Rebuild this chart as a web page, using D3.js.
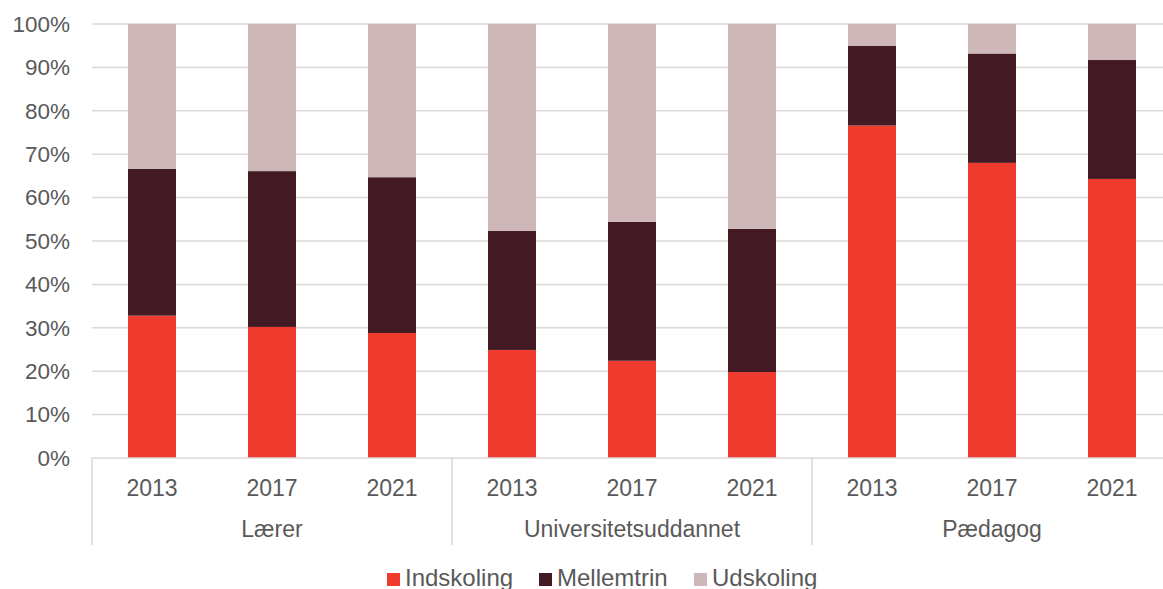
<!DOCTYPE html>
<html>
<head>
<meta charset="utf-8">
<style>
body { margin: 0; background: #fff; }
text { font-family: "Liberation Sans", Arial, sans-serif; fill: #595959; }
</style>
<script src="https://cdn.jsdelivr.net/npm/d3@7"></script>
</head>
<body>
<svg width="1163" height="589"></svg>
<script>
var groups = ["Lærer", "Universitetsuddannet", "Pædagog"];
var years = ["2013", "2017", "2021"];
var series = ["Indskoling", "Mellemtrin", "Udskoling"];
var colors = ["#ee3b2e", "#431a24", "#cdb7b9"];

// shares in %, one entry per bar (group x year)
var indskoling = [32.8, 30.2, 28.8, 24.9, 22.4, 19.8, 76.6, 68.0, 64.3];
var mellemtrin = [33.8, 35.9, 35.9, 27.4, 32.0, 33.0, 18.4, 25.2, 27.4];
var udskoling  = [33.4, 33.9, 35.3, 47.7, 45.6, 47.2, 5.0, 6.8, 8.3];
var yTicks = [0, 10, 20, 30, 40, 50, 60, 70, 80, 90, 100];

var svg = d3.select("svg"),
    margin = {top: 24, right: -9, bottom: 131, left: 92},
    width = +svg.attr("width") - margin.left - margin.right,
    height = +svg.attr("height") - margin.top - margin.bottom,
    g = svg.append("g").attr("transform", "translate(" + margin.left + "," + margin.top + ")");

var rows = [];
groups.forEach(function(gr, i) {
  years.forEach(function(yr, j) {
    var k = i * years.length + j;
    rows.push({key: gr + "|" + yr, group: gr, year: yr,
      Indskoling: indskoling[k], Mellemtrin: mellemtrin[k], Udskoling: udskoling[k]});
  });
});

var x = d3.scaleBand().domain(rows.map(function(d) { return d.key; })).range([0, width]).paddingInner(0.6).paddingOuter(0.3);
var y = d3.scaleLinear().domain([0, 100]).range([height, 0]);
var z = d3.scaleOrdinal().domain(series).range(colors);

// gridlines
g.append("g")
  .selectAll("line")
  .data(yTicks.slice(1))
  .enter().append("line")
    .attr("x1", 0).attr("x2", width)
    .attr("y1", function(d) { return y(d); }).attr("y2", function(d) { return y(d); })
    .attr("stroke", "#d9d9d9").attr("stroke-width", 1.5);

// y axis labels
var yAxis = g.append("g")
  .call(d3.axisLeft(y).tickValues(yTicks).tickFormat(function(d) { return d + "%"; }).tickSize(0).tickPadding(22));
yAxis.select(".domain").remove();
yAxis.selectAll("text")
  .attr("fill", "#595959")
  .style("font-size", "22.5px")
  .style("font-family", "'Liberation Sans', Arial, sans-serif");

// stacked bars
var stack = d3.stack().keys(series);
var layers = stack(rows);
g.selectAll(".layer")
  .data(layers)
  .enter().append("g")
    .attr("class", "layer")
    .attr("fill", function(d) { return z(d.key); })
  .selectAll("rect")
  .data(function(d) { return d; })
  .enter().append("rect")
    .attr("x", function(d) { return x(d.data.key); })
    .attr("width", x.bandwidth())
    .attr("y", function(d) { return y(d[1]); })
    .attr("height", function(d) { return y(d[0]) - y(d[1]); });

// x axis baseline
g.append("line")
  .attr("x1", 0).attr("x2", width)
  .attr("y1", height).attr("y2", height)
  .attr("stroke", "#d9d9d9").attr("stroke-width", 1.5);

// year labels
g.append("g")
  .selectAll("text")
  .data(rows)
  .enter().append("text")
    .attr("x", function(d) { return x(d.key) + x.bandwidth() / 2; })
    .attr("y", height + 38)
    .attr("text-anchor", "middle")
    .style("font-size", "23px")
    .text(function(d) { return d.year; });

// group separators and labels
var step = x.step();
var gw = step * years.length;
g.append("g")
  .selectAll("line")
  .data(d3.range(groups.length + 1))
  .enter().append("line")
    .attr("x1", function(i) { return i * gw; }).attr("x2", function(i) { return i * gw; })
    .attr("y1", height).attr("y2", height + 87)
    .attr("stroke", "#d9d9d9").attr("stroke-width", 1.5);

g.append("g")
  .selectAll("text")
  .data(groups)
  .enter().append("text")
    .attr("x", function(d, i) { return i * gw + gw / 2; })
    .attr("y", height + 79)
    .attr("text-anchor", "middle")
    .style("font-size", "23px")
    .text(function(d) { return d; });

// legend
var legendX = [387, 539, 694];
var legend = svg.append("g")
  .selectAll("g")
  .data(series)
  .enter().append("g")
    .attr("transform", function(d, i) { return "translate(" + legendX[i] + ",573)"; });
legend.append("rect")
  .attr("width", 13).attr("height", 13)
  .attr("fill", function(d) { return z(d); });
legend.append("text")
  .attr("x", 18).attr("y", 13)
  .style("font-size", "24px")
  .text(function(d) { return d; });
</script>
</body>
</html>
